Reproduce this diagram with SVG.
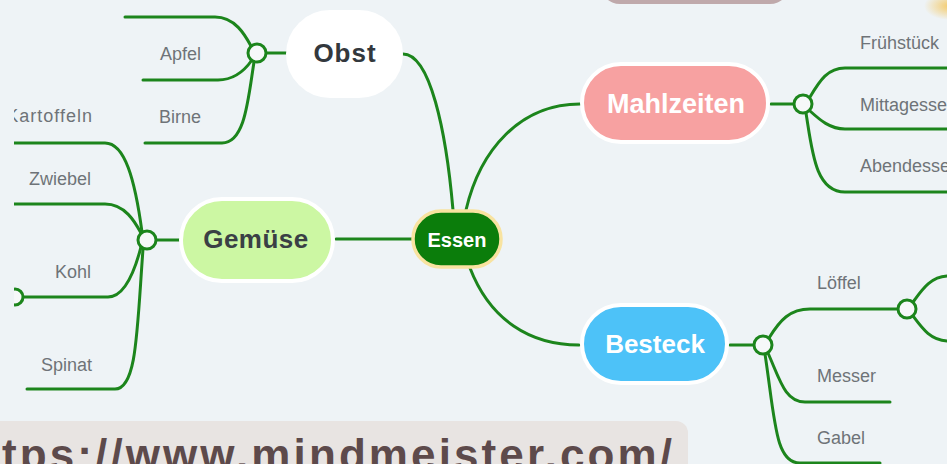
<svg xmlns="http://www.w3.org/2000/svg" width="947" height="464" viewBox="0 0 947 464">
<defs>
<style>
.ln{fill:none;stroke:#1c851c;stroke-width:3;stroke-linecap:round}
.dot{fill:#f6f8f9;stroke:#1c851c;stroke-width:3}
.lbl{font-family:"Liberation Sans",Arial,sans-serif;font-size:18px;fill:#6e7378}
.nt{font-family:"Liberation Sans",Arial,sans-serif;font-weight:bold;text-anchor:middle}
.pill{stroke:#ffffff;stroke-width:4}
</style>
<radialGradient id="glow" cx="0.5" cy="0.5" r="0.5">
<stop offset="0" stop-color="#f5c65a" stop-opacity="0.9"/>
<stop offset="1" stop-color="#f5c65a" stop-opacity="0"/>
</radialGradient>
</defs>
<rect x="0" y="0" width="947" height="464" fill="#eef3f6"/>
<rect x="600" y="-40" width="190" height="44" rx="20" fill="#bfa9ab"/>
<ellipse cx="950" cy="6" rx="26" ry="14" fill="url(#glow)"/>

<g id="connectors">
<path class="ln" d="M403 54 C430 54 446 130 453 210"/>
<path class="ln" d="M466 210 C480 150 520 104 580 104"/>
<path class="ln" d="M336 239 H412"/>
<path class="ln" d="M470 268 C490 320 530 345 579 345"/>
<path class="ln" d="M266 53 H287"/>
<path class="ln" d="M125 17 H215 C235 17 245 35 251 46"/>
<path class="ln" d="M143 80 H218 C235 80 245 70 252 60"/>
<path class="ln" d="M145 143 H222 C245 143 248 100 254 62"/>
<path class="ln" d="M156 240 H180"/>
<path class="ln" d="M10 143 H105 C125 143 135 180 142 232"/>
<path class="ln" d="M10 204 H105 C125 204 135 222 141 233"/>
<path class="ln" d="M23 297 H108 C125 297 135 270 141 247"/>
<path class="ln" d="M27 389 H115 C137 389 137 330 143 249"/>
<path class="ln" d="M771 104 H794"/>
<path class="ln" d="M810 97 C820 80 828 68 845 68 H947"/>
<path class="ln" d="M810 111 C820 120 830 129 845 129 H947"/>
<path class="ln" d="M806 113 C812 150 815 192 845 192 H947"/>
<path class="ln" d="M730 345 H754"/>
<path class="ln" d="M769 338 C780 320 790 309 810 309 H898"/>
<path class="ln" d="M768 353 C780 380 785 402 805 402 H890"/>
<path class="ln" d="M765 354 C775 420 775 463 800 463 H880"/>
<path class="ln" d="M913 302 C922 290 930 277 947 276"/>
<path class="ln" d="M913 316 C922 328 930 340 947 341"/>
<circle class="dot" cx="257" cy="53" r="9"/>
<circle class="dot" cx="147" cy="240" r="9"/>
<circle class="dot" cx="15" cy="297" r="8"/>
<circle class="dot" cx="803" cy="104" r="9"/>
<circle class="dot" cx="763" cy="345" r="9"/>
<circle class="dot" cx="907" cy="309" r="9"/>
</g>

<g id="essen">
<rect x="413" y="211" width="88" height="56" rx="28" fill="#0b7d0b" stroke="#f8e3a0" stroke-width="3.5"/>
<text class="nt" x="457" y="247" font-size="20" fill="#ffffff">Essen</text>
</g>
<g id="obst">
<rect class="pill" x="288" y="12" width="113" height="84" rx="42" fill="#ffffff"/>
<text class="nt" x="345" y="62" font-size="26" fill="#33383d" letter-spacing="1">Obst</text>
</g>
<g id="gemuese">
<rect class="pill" x="181" y="199" width="152" height="82" rx="41" fill="#ccf7a3"/>
<text class="nt" x="256" y="248" font-size="26" fill="#3a4045" letter-spacing="0.5">Gemüse</text>
</g>
<g id="mahlzeiten">
<rect class="pill" x="582" y="64" width="186" height="78" rx="39" fill="#f7a1a1"/>
<text class="nt" x="676" y="113" font-size="27" fill="#ffffff">Mahlzeiten</text>
</g>
<g id="besteck">
<rect class="pill" x="582" y="305" width="145" height="78" rx="39" fill="#4dc2f8"/>
<text class="nt" x="655" y="353" font-size="26" fill="#ffffff">Besteck</text>
</g>

<g id="labels">
<text class="lbl" x="201" y="60" text-anchor="end">Apfel</text>
<text class="lbl" x="201" y="123" text-anchor="end">Birne</text>
<text class="lbl" x="93" y="122" text-anchor="end" letter-spacing="1">Kartoffeln</text>
<text class="lbl" x="91" y="185" text-anchor="end">Zwiebel</text>
<text class="lbl" x="91" y="278" text-anchor="end">Kohl</text>
<text class="lbl" x="92" y="371" text-anchor="end">Spinat</text>
<text class="lbl" x="860" y="49">Frühstück</text>
<text class="lbl" x="860" y="111">Mittagessen</text>
<text class="lbl" x="860" y="172">Abendessen</text>
<text class="lbl" x="817" y="289">Löffel</text>
<text class="lbl" x="817" y="382">Messer</text>
<text class="lbl" x="817" y="444">Gabel</text>
</g>

<rect x="0" y="0" width="14" height="420" fill="#eef3f6"/>

<g id="url">
<rect x="-20" y="421" width="708" height="70" rx="12" fill="#e8e4e2"/>
<text x="2" y="470" font-family="'Liberation Sans',Arial,sans-serif" font-weight="bold" font-size="44" fill="#5d4a4b" textLength="670" lengthAdjust="spacing">tps://www.mindmeister.com/</text>
</g>
</svg>
